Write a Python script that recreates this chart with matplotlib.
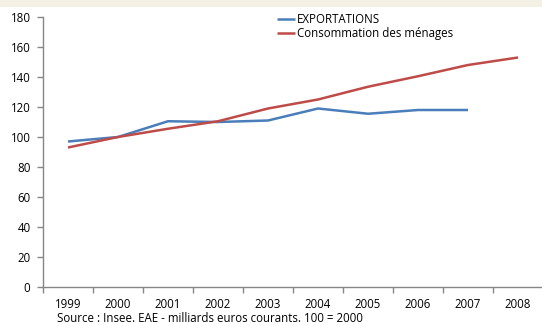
import matplotlib
matplotlib.use("Agg")
import matplotlib.pyplot as plt
import matplotlib.patches as patches

plt.rcParams['font.family'] = ['Open Sans', 'DejaVu Sans']

annees = ['1999', '2000', '2001', '2002', '2003', '2004', '2005', '2006', '2007', '2008']
exportations = [97, 100, 110.5, 110, 111, 119, 115.5, 118, 118]
consommation = [93, 100, 105.5, 110.5, 119, 125, 133.5, 140.5, 148, 153]

fig = plt.figure(figsize=(5.42, 3.23), dpi=100)

# bandeau beige en haut
fig.patches.append(patches.Rectangle((0, 1 - 7 / 323), 1, 7 / 323, transform=fig.transFigure,
                                     facecolor='#f3f0e4', edgecolor='none', zorder=0))

ax = fig.add_axes([43 / 542, 1 - 287 / 323, 500 / 542, 270 / 323])
ax.set_facecolor('none')

x_exp = range(len(exportations))
x_cons = range(len(consommation))
ax.plot(x_exp, exportations, color='#4a7ebb', lw=1.8, label='EXPORTATIONS', solid_capstyle='butt')
ax.plot(x_cons, consommation, color='#be4b48', lw=1.8, label='Consommation des ménages', solid_capstyle='butt')

ax.set_ylim(0, 180)
ax.set_xlim(-0.5, len(annees) - 0.5)
ax.set_yticks(range(0, 181, 20))
ax.set_xticks(range(len(annees)))
ax.set_xticklabels(annees)
ax.set_xticks([i - 0.5 for i in range(len(annees))], minor=True)

for s in ['top', 'right']:
    ax.spines[s].set_visible(False)
for s in ['left', 'bottom']:
    ax.spines[s].set_color('#868686')
    ax.spines[s].set_linewidth(1.0)

fs = 8.3
ax.tick_params(axis='y', length=4, width=1, color='#868686', labelsize=fs, pad=5)
ax.tick_params(axis='x', which='major', length=0, labelsize=fs, pad=8)
ax.tick_params(axis='x', which='minor', length=4, width=1, color='#868686')

ax.legend(loc='upper left', bbox_to_anchor=(277 / 542, 1 - 13 / 323), bbox_transform=fig.transFigure,
          frameon=False, fontsize=fs, handlelength=1.6, handletextpad=0.1,
          labelspacing=0.1, borderpad=0, borderaxespad=0)

fig.text(57 / 542, 1 - 318 / 323, 'Source : Insee. EAE - milliards euros courants. 100 = 2000',
         fontsize=fs, va='center', ha='left')

fig.savefig('out.png', dpi=100)
